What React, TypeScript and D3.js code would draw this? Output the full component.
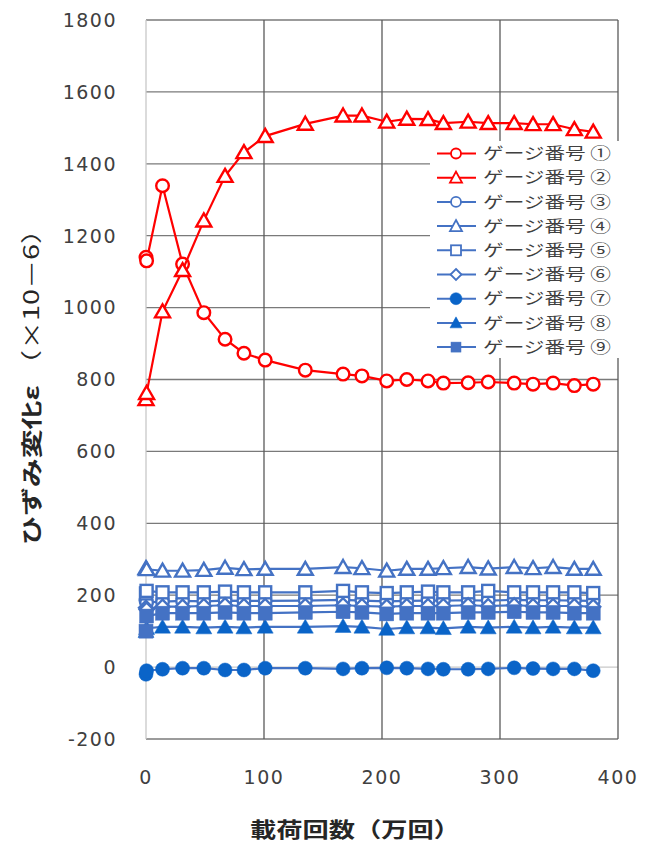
import React from 'react';
import * as d3 from 'd3';

// load cycles (x 10^4)
const cycles = [0, 0.5, 14, 31, 49, 67, 83, 101, 135, 167, 183, 204, 221, 239, 252, 273, 290, 312, 328, 345, 363, 379];

const gauge1 = [1140, 1130, 1339, 1121, 986, 912, 873, 854, 826, 815, 810, 796, 800, 796, 790, 791, 793, 790, 787, 790, 783, 787];
const gauge2 = [745, 762, 989, 1104, 1242, 1366, 1432, 1477, 1511, 1534, 1534, 1517, 1525, 1524, 1513, 1517, 1513, 1513, 1510, 1510, 1496, 1489];
const gauge3 = [185, 180, 182, 184, 183, 185, 184, 184, 185, 187, 185, 183, 184, 185, 185, 186, 185, 187, 186, 186, 185, 184];
const gauge4 = [275, 272, 268, 268, 270, 276, 272, 273, 273, 278, 275, 268, 273, 273, 275, 278, 274, 278, 275, 278, 273, 273];
const gauge5 = [205, 212, 208, 208, 208, 210, 208, 208, 208, 212, 208, 206, 208, 210, 208, 208, 212, 208, 208, 208, 208, 206];
const gauge6 = [165, 160, 168, 168, 170, 172, 170, 170, 170, 172, 170, 168, 170, 170, 170, 172, 170, 172, 170, 170, 170, 168];
const gauge7 = [-20, -10, -6, -3, -3, -8, -8, -3, -3, -5, -3, -2, -3, -5, -6, -6, -5, -2, -4, -5, -5, -10];
const gauge8 = [100, 108, 112, 112, 110, 112, 110, 112, 112, 114, 112, 106, 110, 110, 108, 112, 110, 112, 110, 112, 110, 110];
const gauge9 = [100, 142, 150, 150, 150, 152, 150, 150, 152, 154, 152, 148, 150, 150, 150, 152, 152, 154, 152, 152, 150, 150];

const names = ['ゲージ番号 ①', 'ゲージ番号 ②', 'ゲージ番号 ③', 'ゲージ番号 ④', 'ゲージ番号 ⑤', 'ゲージ番号 ⑥', 'ゲージ番号 ⑦', 'ゲージ番号 ⑧', 'ゲージ番号 ⑨'];
const xTicks = [0, 100, 200, 300, 400];
const yTicks = [-200, 0, 200, 400, 600, 800, 1000, 1200, 1400, 1600, 1800];

const RED = '#ff0000';
const BLUE = '#4472c4';
const DARK = '#0a64c8';

const series = [
  { values: gauge1, color: RED, shape: 'circle', filled: false },
  { values: gauge2, color: RED, shape: 'triangle', filled: false },
  { values: gauge3, color: BLUE, shape: 'circle', filled: false },
  { values: gauge4, color: BLUE, shape: 'triangle', filled: false },
  { values: gauge5, color: BLUE, shape: 'square', filled: false },
  { values: gauge6, color: BLUE, shape: 'diamond', filled: false },
  { values: gauge7, color: BLUE, shape: 'circle', filled: true, fill: DARK },
  { values: gauge8, color: BLUE, shape: 'triangle', filled: true, fill: DARK },
  { values: gauge9, color: BLUE, shape: 'square', filled: true, fill: BLUE },
];

function Marker({ x, y, shape, color, filled, fill, legend }: any) {
  const f = filled ? fill : '#fff';
  const sw = legend ? 1.8 : 2.4;
  if (shape === 'circle') {
    const r = filled ? (legend ? 6 : 7) : (legend ? 5 : 6.3);
    return <circle cx={x} cy={y} r={r} fill={f} stroke={filled ? fill : color} strokeWidth={filled ? 0.5 : sw} />;
  }
  if (shape === 'triangle') {
    const h = legend ? 11 : (filled ? 14 : 13);
    const w = legend ? 12 : (filled ? 16 : 15);
    const d = `M${x},${y - h * 0.55}L${x + w / 2},${y + h * 0.45}L${x - w / 2},${y + h * 0.45}Z`;
    return <path d={d} fill={f} stroke={filled ? fill : color} strokeWidth={filled ? 0.5 : sw} strokeLinejoin="miter" />;
  }
  if (shape === 'square') {
    const s = legend ? 10 : (filled ? 14 : 12);
    return <rect x={x - s / 2} y={y - s / 2} width={s} height={s} fill={f} stroke={color} strokeWidth={filled ? 0.5 : sw} />;
  }
  const r = legend ? 5.5 : 7;
  const d = `M${x},${y - r}L${x + r},${y}L${x},${y + r}L${x - r},${y}Z`;
  return <path d={d} fill={f} stroke={color} strokeWidth={sw} />;
}

export default function App() {
  const width = 659;
  const height = 845;
  const x = d3.scaleLinear().domain([0, 400]).range([146, 618]);
  const y = d3.scaleLinear().domain([-200, 1800]).range([739, 20]);
  const line = d3.line<number>()
    .x((_, i) => x(cycles[i]))
    .y((d) => y(d));

  const tickFont = '"DejaVu Sans", sans-serif';
  const jpFont = '"Noto Sans CJK JP", sans-serif';

  return (
    <svg width={width} height={height} style={{ position: 'absolute', left: 0, top: 0, background: '#fff' }}>
      {/* grid */}
      {yTicks.map((t) => (
        <line key={'gy' + t} x1={x(0)} x2={x(400)} y1={y(t)} y2={y(t)}
          stroke={t === 0 ? '#c8c8c8' : '#7a7a7a'} strokeWidth={1.3} />
      ))}
      {xTicks.map((t) => (
        <line key={'gx' + t} x1={x(t)} x2={x(t)} y1={y(1800)} y2={y(-200)}
          stroke={t === 0 ? '#c8c8c8' : '#5a5a5a'} strokeWidth={1.3} />
      ))}

      {/* series */}
      {series.map((s, si) => (
        <g key={'s' + si}>
          <path d={line(s.values) || ''} fill="none" stroke={s.color} strokeWidth={2.2} />
          {s.values.map((v, i) => (
            <Marker key={i} x={x(cycles[i])} y={y(v)} shape={s.shape} color={s.color} filled={s.filled} fill={s.fill} />
          ))}
        </g>
      ))}

      {/* legend */}
      <rect x={430} y={141} width={194} height={217} fill="#fff" />
      {series.map((s, i) => {
        const ly = 153.5 + i * 24.2;
        return (
          <g key={'l' + i}>
            <line x1={437} x2={476} y1={ly} y2={ly} stroke={s.color} strokeWidth={2} />
            <Marker x={456} y={ly} shape={s.shape} color={s.color} filled={s.filled} fill={s.fill} legend />
            <text x={483} y={ly} dy="0.36em" fontFamily={jpFont} fontSize={16} fill="#404040"
              textLength={128} lengthAdjust="spacingAndGlyphs">{names[i]}</text>
          </g>
        );
      })}

      {/* y tick labels */}
      {yTicks.map((t) => (
        <text key={'yl' + t} x={117} y={y(t)} dy="0.36em" textAnchor="end" fontFamily={tickFont}
          fontSize={19} fill="#404040" letterSpacing={1.5}>{t}</text>
      ))}
      {/* x tick labels */}
      {xTicks.map((t) => (
        <text key={'xl' + t} x={x(t)} y={777} dy="0.36em" textAnchor="middle" fontFamily={tickFont}
          fontSize={19} fill="#404040" letterSpacing={1.5}>{t}</text>
      ))}

      {/* axis titles */}
      <text x={355} y={829} dy="0.36em" textAnchor="middle" fontFamily={jpFont} fontSize={21} fontWeight="bold"
        fill="#262626" textLength={210} lengthAdjust="spacingAndGlyphs">載荷回数（万回）</text>
      <text transform="translate(31,380) rotate(-90)" textAnchor="middle" dy="0.36em" fontFamily={jpFont} fontSize={21}
        fill="#262626" textLength={330} lengthAdjust="spacingAndGlyphs">
        <tspan fontWeight="bold">ひずみ変化ε</tspan>
        <tspan> （×10－6）</tspan>
      </text>
    </svg>
  );
}
